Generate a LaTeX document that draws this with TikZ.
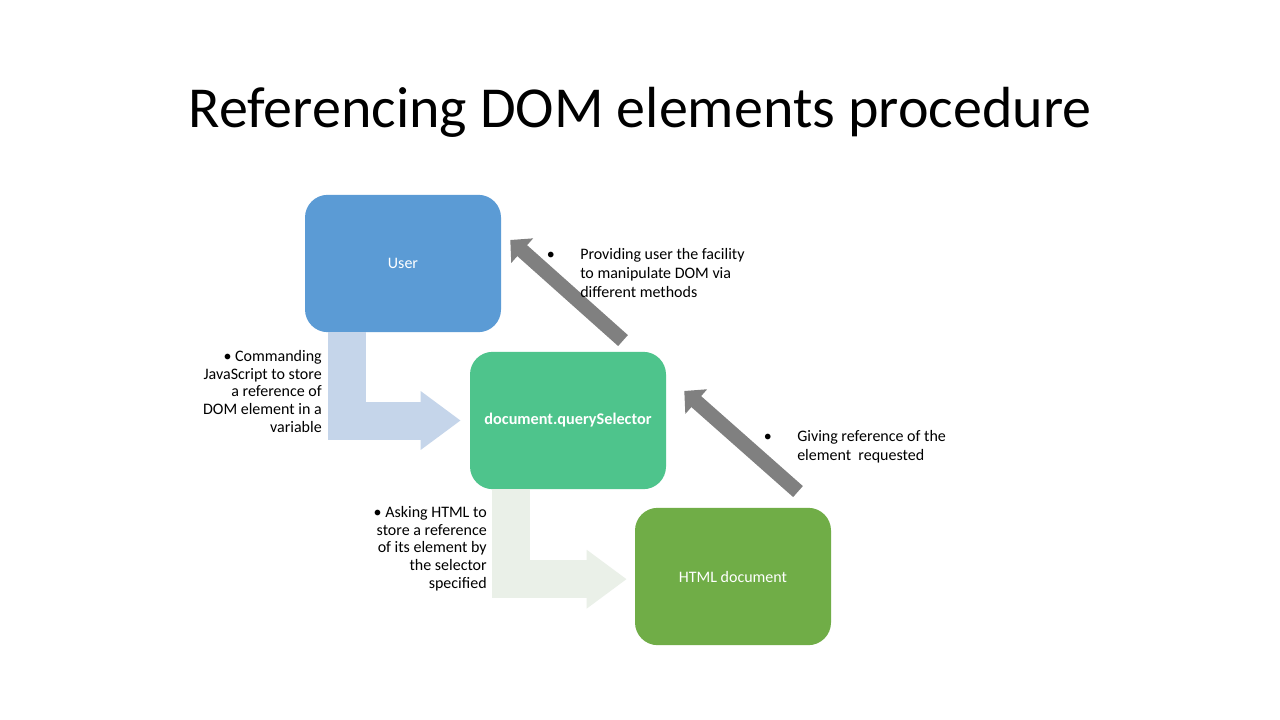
\documentclass[tikz,border=0pt]{standalone}
\usepackage{fontspec}
\setmainfont{Carlito}
\usetikzlibrary{arrows.meta,positioning,calc}
\definecolor{domUser}{HTML}{5B9BD5}
\definecolor{domQuery}{HTML}{4EC48C}
\definecolor{domHtml}{HTML}{70AD47}
\definecolor{domCmd}{HTML}{C5D5EA}
\definecolor{domAsk}{HTML}{EAF0E8}
\definecolor{domBack}{HTML}{808080}
\tikzset{
  dombox/.style={fill=#1,text=white,rounded corners=17pt,minimum width=147pt,minimum height=103pt,
                 align=center,inner sep=2pt,font=\fontsize{12}{14}\selectfont},
  dombend/.style={draw=#1,line width=28.5pt,-{Triangle[length=30pt,width=42pt]}},
  domback/.style={draw=domBack,line width=11pt,-{Triangle[length=12pt,width=24pt]}},
  domlbl/.style={inner sep=0pt,font=\fontsize{12}{13.3}\selectfont},
}
\begin{document}
\begin{tikzpicture}[x=0.75pt,y=-0.75pt]
  \useasboundingbox[fill=white] (0,0) rectangle (1280,720);
  \node[font=\fontsize{43.5}{50}\selectfont,anchor=base] (title) at (640,128) {Referencing DOM elements procedure};

  \node[dombox=domUser] (user) at (403,263.5) {User};
  \node[dombox=domQuery,font=\fontsize{12.2}{14}\selectfont\bfseries] (qs) at (568,420.5) {document.querySelector};
  \node[dombox=domHtml] (html) at (733,576.5) {HTML document};

  % bent block arrows
  \draw[dombend=domCmd] ([xshift=-42pt]user.south) |- ([xshift=-6.75pt]qs.west);
  \draw[dombend=domAsk] ([xshift=-42.4pt]qs.south) |- ([xshift=-6pt,yshift=-2pt]html.west);

  % grey return arrows
  \draw[domback] ($(qs.north)+(55,-11)$) -- ($(user.east)+(9,-23.5)$);
  \draw[domback] ($(html.north)+(65,-16)$) -- ($(qs.east)+(18,-29.5)$);

  \node[domlbl,align=right,anchor=north east] (cmd) at (322,350)
        {\textbullet\ Commanding\\JavaScript to store\\a reference of\\DOM element in a\\variable};
  \node[domlbl,align=right,anchor=north east] (ask) at (487,506)
        {\textbullet\ Asking HTML to\\store a reference\\of its element by\\the selector\\specified};
  \node[domlbl,align=left,anchor=north west,font=\fontsize{12}{14.25}\selectfont] (prov) at (580,248)
        {\llap{\textbullet\hspace{19pt}}Providing user the facility\\to manipulate DOM via\\different methods};
  \node[domlbl,align=left,anchor=north west,font=\fontsize{12}{14.25}\selectfont] (give) at (797,430)
        {\llap{\textbullet\hspace{19pt}}Giving reference of the\\element\ \ requested};
\end{tikzpicture}
\end{document}
